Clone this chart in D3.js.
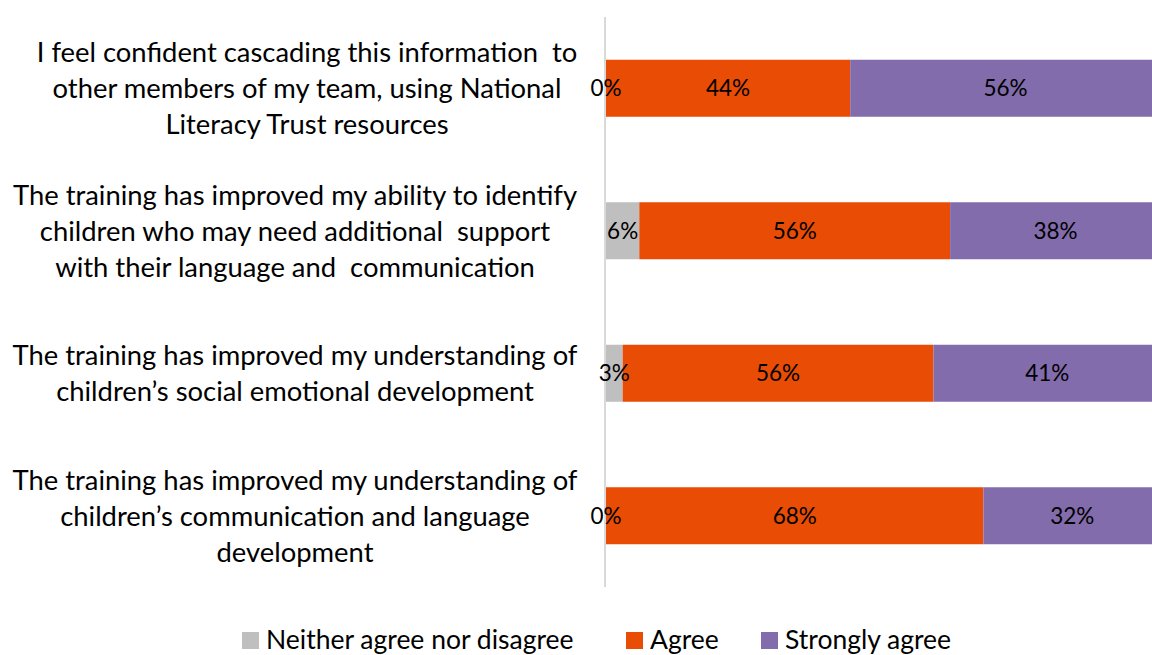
<!DOCTYPE html>
<html>
<head>
<meta charset="utf-8">
<script src="https://cdn.jsdelivr.net/npm/d3@7"></script>
<style>
  html, body { margin: 0; padding: 0; background: #fff; }
  svg { display: block; font-family: Lato, "Open Sans", sans-serif; }
  text { white-space: pre; }
</style>
</head>
<body>
<svg id="chart" width="1152" height="655"></svg>
<script>
// Survey statements, split into the lines shown beside each bar
const categories = [
  ["I feel confident cascading this information  to", "other members of my team, using National", "Literacy Trust resources"],
  ["The training has improved my ability to identify", "children who may need additional  support", "with their language and  communication"],
  ["The training has improved my understanding of", "children\u2019s social emotional development"],
  ["The training has improved my understanding of", "children\u2019s communication and language", "development"]
];
const seriesNames = ["Neither agree nor disagree", "Agree", "Strongly agree"];
const seriesColors = ["#BFBFBF", "#E84C05", "#826CAC"];
// Percentages per statement, in series order
const neither = [0, 6, 3, 0];
const agree = [44, 56, 56, 68];
const stronglyAgree = [56, 38, 41, 32];

const svg = d3.select("#chart");
const keys = categories.map((c, i) => i);

const rows = keys.map(i => ({ key: i, s0: neither[i], s1: agree[i], s2: stronglyAgree[i] }));
const stacked = d3.stack().keys(["s0", "s1", "s2"])(rows);

const x = d3.scaleLinear().domain([0, 100]).range([606, 1161]);
const y = d3.scaleBand().domain(keys).range([17, 587]).paddingInner(0.6).paddingOuter(0.3);

// Category axis line
svg.append("line")
  .attr("x1", 605).attr("x2", 605)
  .attr("y1", 17).attr("y2", 587)
  .attr("stroke", "#D9D9D9").attr("stroke-width", 2);

// Bars
const layers = svg.append("g").selectAll("g").data(stacked).join("g")
  .attr("fill", (d, i) => seriesColors[i]);
layers.selectAll("rect").data(d => d).join("rect")
  .attr("x", d => x(d[0]))
  .attr("y", d => y(d.data.key))
  .attr("width", d => x(d[1]) - x(d[0]))
  .attr("height", y.bandwidth());

// Value labels, centred in each segment
const labels = svg.append("g").attr("font-size", 22.5).attr("fill", "#000").attr("text-anchor", "middle");
stacked.forEach(layer => {
  layer.forEach(d => {
    labels.append("text")
      .attr("x", (x(d[0]) + x(d[1])) / 2)
      .attr("y", y(d.data.key) + y.bandwidth() / 2)
      .attr("dy", "0.36em")
      .text(`${d[1] - d[0]}%`);
  });
});

// Category labels (first block sits slightly right, as its lines carry trailing spaces)
const lineH = 36;
const labelCenterX = i => (i === 0 ? 307 : 295);
const catG = svg.append("g").attr("font-size", 27.4).attr("fill", "#000").attr("text-anchor", "middle");
categories.forEach((lines, i) => {
  const cy = y(i) + y.bandwidth() / 2;
  const t = catG.append("text").attr("x", labelCenterX(i));
  lines.forEach((ln, j) => {
    t.append("tspan")
      .attr("x", labelCenterX(i))
      .attr("y", cy + (j - (lines.length - 1) / 2) * lineH)
      .attr("dy", "0.36em")
      .text(ln);
  });
});

// Legend
const legendItems = [
  { name: seriesNames[0], color: seriesColors[0], x: 242 },
  { name: seriesNames[1], color: seriesColors[1], x: 626 },
  { name: seriesNames[2], color: seriesColors[2], x: 761 }
];
const leg = svg.append("g").attr("font-size", 26.5);
legendItems.forEach(it => {
  leg.append("rect").attr("x", it.x).attr("y", 632).attr("width", 17).attr("height", 17).attr("fill", it.color);
  leg.append("text").attr("x", it.x + 24).attr("y", 649).text(it.name);
});
</script>
</body>
</html>
